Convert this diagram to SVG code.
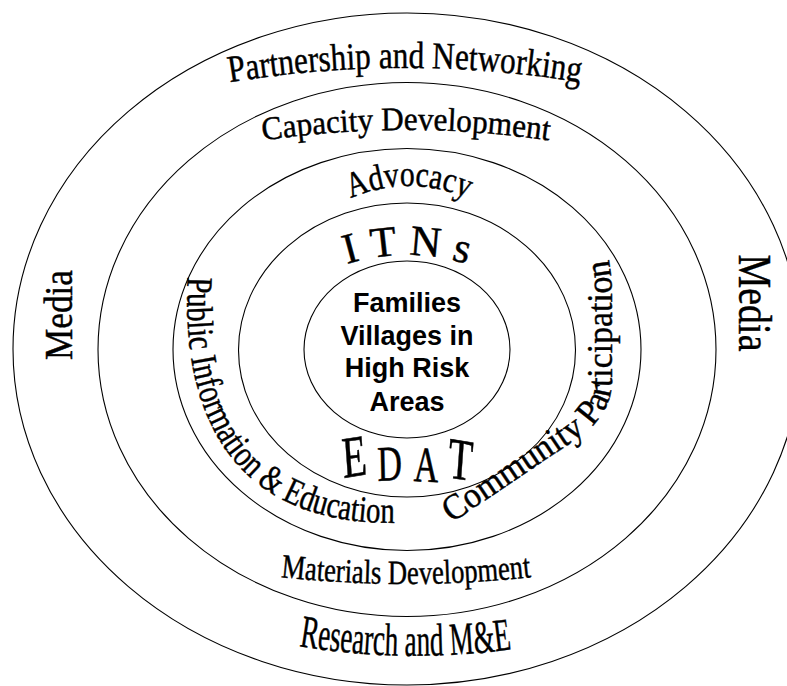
<svg xmlns="http://www.w3.org/2000/svg" width="787" height="686" viewBox="0 0 787 686">
<style>
.ring{fill:none;stroke:#000;stroke-width:1.1}
.w{font-family:"Liberation Serif","Times New Roman",serif;fill:#000;stroke:#000;stroke-width:0.45}
.c{font-family:"Liberation Sans",Arial,sans-serif;font-weight:bold;font-size:27px;text-anchor:middle;fill:#000}
.mid{text-anchor:middle}
</style>
<defs>
<path id="p-partner" d="M 226 83 Q 405 53 584 83"/>
<path id="p-capacity" d="M 260 141 Q 406 119 552 141"/>
<path id="p-advocacy" d="M 345 201 Q 409 171 473 201"/>
<path id="p-itns" d="M 338 267 Q 407 243 476 267"/>
<path id="p-pie" d="M 188 268 C 178 420 235 535 420 522"/>
<path id="p-cp" d="M 450 524 L 575 440 Q 612 416 612 380 L 612 300 Q 612 262 603 240"/>
<path id="p-materials" d="M 278 577 Q 406 591 534 577"/>
<path id="p-research" d="M 297 646 Q 405 664 514 649"/>
</defs>
<rect width="787" height="686" fill="#fff"/>

<g id="ring-outer">
<ellipse class="ring" cx="407" cy="349" rx="394" ry="336"/>
<text class="w" font-size="38"><textPath href="#p-partner" startOffset="50%" text-anchor="middle" textLength="352" lengthAdjust="spacingAndGlyphs">Partnership and Networking</textPath></text>
<text class="w mid" font-size="41" transform="translate(72,315) rotate(-90)" textLength="90" lengthAdjust="spacingAndGlyphs">Media</text>
<text class="w mid" font-size="46" transform="translate(739,303) rotate(90)" textLength="97" lengthAdjust="spacingAndGlyphs">Media</text>
<text class="w" font-size="46"><textPath href="#p-research" startOffset="50%" text-anchor="middle" textLength="214" lengthAdjust="spacingAndGlyphs">Research and M&amp;E</textPath></text>
</g>

<g id="ring-2">
<ellipse class="ring" cx="407" cy="349.5" rx="309" ry="267"/>
<text class="w" font-size="33"><textPath href="#p-capacity" startOffset="50%" text-anchor="middle" textLength="287" lengthAdjust="spacingAndGlyphs">Capacity Development</textPath></text>
<text class="w" font-size="34"><textPath href="#p-materials" startOffset="50%" text-anchor="middle" textLength="251" lengthAdjust="spacingAndGlyphs">Materials Development</textPath></text>
</g>

<g id="ring-3">
<ellipse class="ring" cx="407" cy="349.5" rx="234" ry="201"/>
<text class="w" font-size="36"><textPath href="#p-advocacy" startOffset="50%" text-anchor="middle" textLength="120" lengthAdjust="spacingAndGlyphs">Advocacy</textPath></text>
<text class="w" font-size="37"><textPath href="#p-pie" startOffset="9" textLength="372" lengthAdjust="spacingAndGlyphs">Public Information &amp; Education</textPath></text>
<text class="w" font-size="36"><textPath href="#p-cp" startOffset="2" textLength="343" lengthAdjust="spacingAndGlyphs">Community Participation</textPath></text>
</g>

<g id="ring-4">
<ellipse class="ring" cx="407" cy="350" rx="168.5" ry="147"/>
<text class="w" font-size="43"><textPath href="#p-itns" startOffset="50%" text-anchor="middle" textLength="122" lengthAdjust="spacing">ITNs</textPath></text>
<text class="w" font-size="40" transform="translate(0,481) scale(0.85,1.25)" x="404 444.5 486.5 526" y="-2.4 0 0 -3" rotate="-6 -2 2 6"><tspan font-size="47">E</tspan>DA<tspan font-size="47">T</tspan></text>
</g>

<g id="core">
<ellipse class="ring" cx="407" cy="349.5" rx="103" ry="88.5"/>
<text class="c" x="407" y="311.5">Families</text>
<text class="c" x="407" y="345">Villages in</text>
<text class="c" x="407" y="377">High Risk</text>
<text class="c" x="407" y="410.5">Areas</text>
</g>

<g id="connectors"></g>
</svg>
